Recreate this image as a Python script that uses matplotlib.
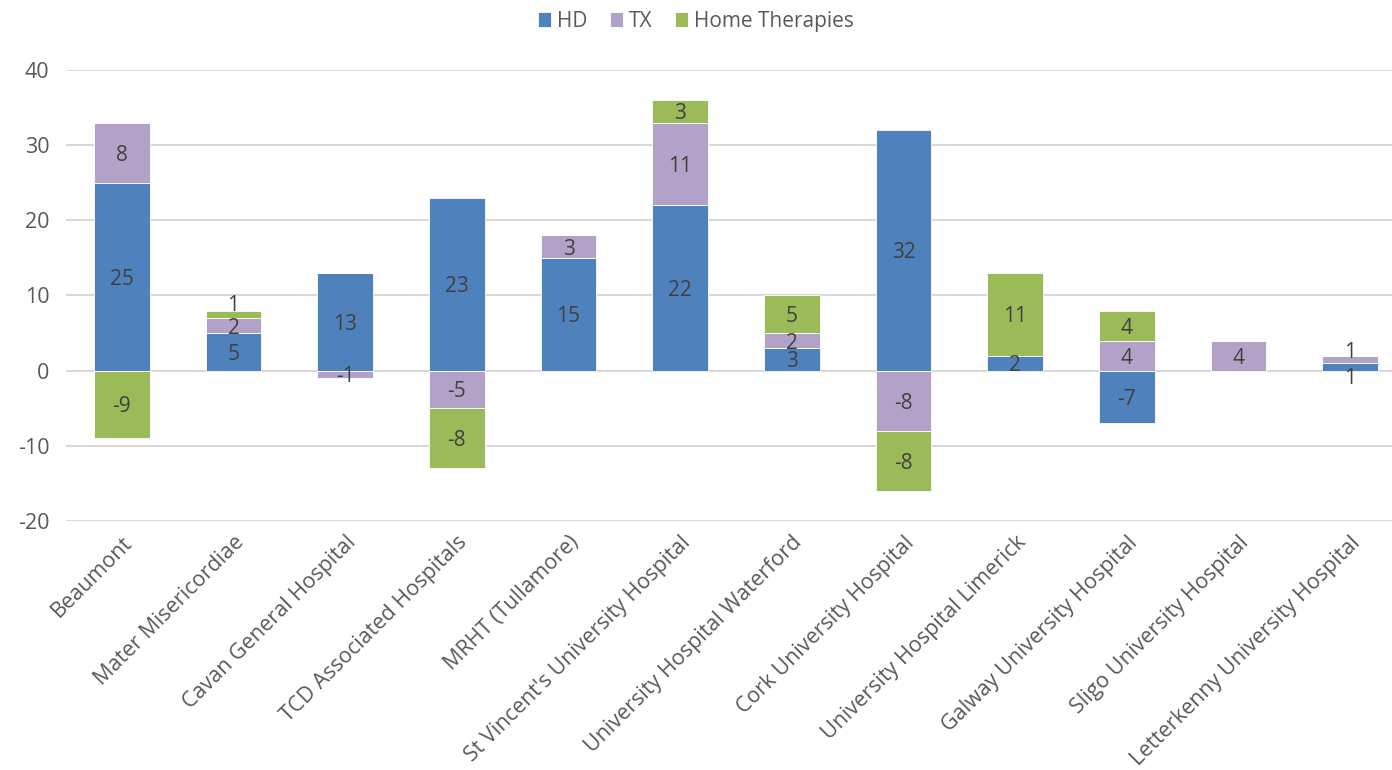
import numpy as np
import matplotlib.pyplot as plt

szpitale = [
    "Beaumont", "Mater Misericordiae", "Cavan General Hospital",
    "TCD Associated Hospitals", "MRHT (Tullamore)",
    "St Vincent's University Hospital", "University Hospital Waterford",
    "Cork University Hospital", "University Hospital Limerick",
    "Galway University Hospital", "Sligo University Hospital",
    "Letterkenny University Hospital",
]
hd = [25, 5, 13, 23, 15, 22, 3, 32, 2, -7, 0, 1]
tx = [8, 2, -1, -5, 3, 11, 2, -8, 0, 4, 4, 1]
home = [-9, 1, 0, -8, 0, 3, 5, -8, 11, 4, 0, 0]

serie = [("HD", hd, "#4F81BD"), ("TX", tx, "#B3A2C7"),
         ("Home Therapies", home, "#9BBB59")]

# przesuniecia etykiet dla malych segmentow (jak Excel)
przesuniecia = {(1, "Home Therapies"): 1.5, (11, "TX"): 1.2, (11, "HD"): -1.2}

plt.rcParams["font.family"] = ["Open Sans", "DejaVu Sans"]
plt.rcParams["axes.unicode_minus"] = False

fig = plt.figure(figsize=(13.92, 7.70), dpi=100)
ax = fig.add_axes([66 / 1392, 249 / 770, 1340 / 1392, 451 / 770])

x = np.arange(len(szpitale))
dodatnie = np.zeros(len(x))
ujemne = np.zeros(len(x))
for nazwa, wart, kolor in serie:
    w = np.array(wart, dtype=float)
    dol = np.where(w >= 0, dodatnie, ujemne)
    ax.bar(x, w, 0.5, bottom=dol, color=kolor, edgecolor="white",
           linewidth=0.6, label=nazwa, zorder=3)
    for i, v in enumerate(w):
        if v == 0:
            continue
        yc = dol[i] + v / 2 + przesuniecia.get((i, nazwa), 0)
        ax.text(x[i], yc, f"{int(v)}", ha="center", va="center_baseline",
                fontsize=15, color="#404040", zorder=4)
    dodatnie = np.where(w >= 0, dodatnie + w, dodatnie)
    ujemne = np.where(w < 0, ujemne + w, ujemne)

ax.set_xlim(-0.5, len(x) - 0.5)
ax.set_ylim(-20, 40)
ax.set_yticks(range(-20, 41, 10))
ax.grid(axis="y", color="#D9D9D9", linewidth=1.5, zorder=0)
for s in ax.spines.values():
    s.set_visible(False)
ax.tick_params(axis="both", length=0, labelsize=15.5, colors="#595959")
ax.tick_params(axis="y", pad=12)
ax.set_xticks(x)
ax.set_xticklabels(szpitale, rotation=45, ha="right", rotation_mode="anchor")
ax.tick_params(axis="x", pad=8)

handles, labels = ax.get_legend_handles_labels()
fig.legend(handles, labels, loc="upper center", bbox_to_anchor=(0.5, 1.01),
           ncol=3, frameon=False, fontsize=15, handlelength=0.6,
           handleheight=0.7, handletextpad=0.3, columnspacing=1.1,
           labelcolor="#595959")

fig.savefig("out.png", dpi=100)
